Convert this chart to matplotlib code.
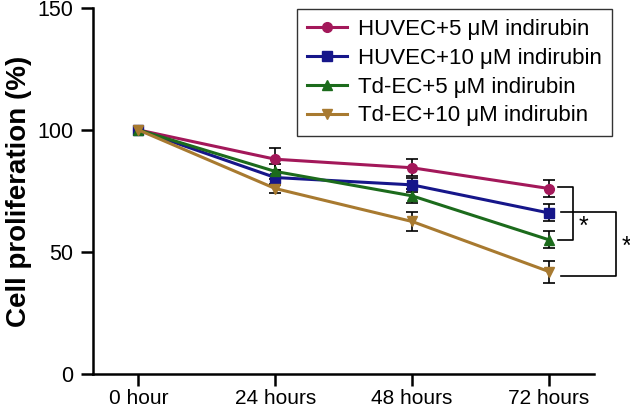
import matplotlib

matplotlib.use("Agg")
import matplotlib.pyplot as plt

plt.rcParams["font.family"] = ["Liberation Sans", "DejaVu Sans"]

# time points and series (cell proliferation, %)
time_labels = ["0 hour", "24 hours", "48 hours", "72 hours"]
series_labels = [
    "HUVEC+5 \u03bcM indirubin",
    "HUVEC+10 \u03bcM indirubin",
    "Td-EC+5 \u03bcM indirubin",
    "Td-EC+10 \u03bcM indirubin",
]
huvec_5 = [100, 88, 84.5, 76]
huvec_10 = [100, 80.5, 77.5, 66]
tdec_5 = [100, 83, 73, 55]
tdec_10 = [100, 76, 62.5, 42]
huvec_5_err = [0, 4.5, 3.5, 3.5]
huvec_10_err = [0, 3, 3, 3.5]
tdec_5_err = [0, 3, 3, 3.5]
tdec_10_err = [0, 2, 4, 4.5]

colors = ["#A3185A", "#16168A", "#1C6B1C", "#A87A30"]
markers = ["o", "s", "^", "v"]

fig = plt.figure(figsize=(6.3, 4.12), dpi=100)
ax = fig.add_axes([0.148, 0.092, 0.795, 0.889])

xs = list(range(len(time_labels)))
values = [huvec_5, huvec_10, tdec_5, tdec_10]
errors = [huvec_5_err, huvec_10_err, tdec_5_err, tdec_10_err]
for vals, errs, col, mk, lab in zip(values, errors, colors, markers, series_labels):
    # no error bar at the 0 hour baseline
    ax.errorbar(xs[1:], vals[1:], yerr=errs[1:], fmt="none", ecolor="black",
                elinewidth=1.2, capsize=4.5, capthick=1.2, zorder=2)
    ax.plot(xs, vals, color=col, marker=mk, markersize=7, linewidth=2.2,
            label=lab, zorder=3)

# significance brackets at 72 hours
kw = dict(color="black", linewidth=1.2, clip_on=False)
ax.plot([3.066, 3.175, 3.175, 3.066], [76.6, 76.6, 54.9, 54.9], **kw)
ax.plot([3.088, 3.489, 3.489, 3.088], [66.4, 66.4, 40.2, 40.2], **kw)
ax.text(3.25, 60.5, "*", fontsize=18, ha="center", va="center")
ax.text(3.565, 52, "*", fontsize=18, ha="center", va="center", clip_on=False)

ax.set_xlim(-0.33, 3.33)
ax.set_ylim(0, 150)
ax.set_xticks(xs)
ax.set_xticklabels(time_labels)
ax.set_yticks([0, 50, 100, 150])
ax.set_ylabel("Cell proliferation (%)", fontsize=20, fontweight="bold")
ax.yaxis.set_label_coords(-0.122, 0.5)
ax.tick_params(axis="y", labelsize=15.5, width=1.8, length=8.5, pad=6,
               direction="out")
ax.tick_params(axis="x", labelsize=15, width=1.8, length=8.5, pad=2,
               direction="out")
for side in ("top", "right"):
    ax.spines[side].set_visible(False)
for side in ("left", "bottom"):
    ax.spines[side].set_linewidth(1.8)

leg = ax.legend(loc="upper right", bbox_to_anchor=(612 / 630, 1 - 9 / 412),
                bbox_transform=fig.transFigure, borderaxespad=0, fontsize=16,
                frameon=True, fancybox=False, edgecolor="black",
                handlelength=1.8, labelspacing=0.35, borderpad=0.45,
                handletextpad=0.5)
leg.get_frame().set_linewidth(1.0)

fig.savefig("out.png", dpi=100)
